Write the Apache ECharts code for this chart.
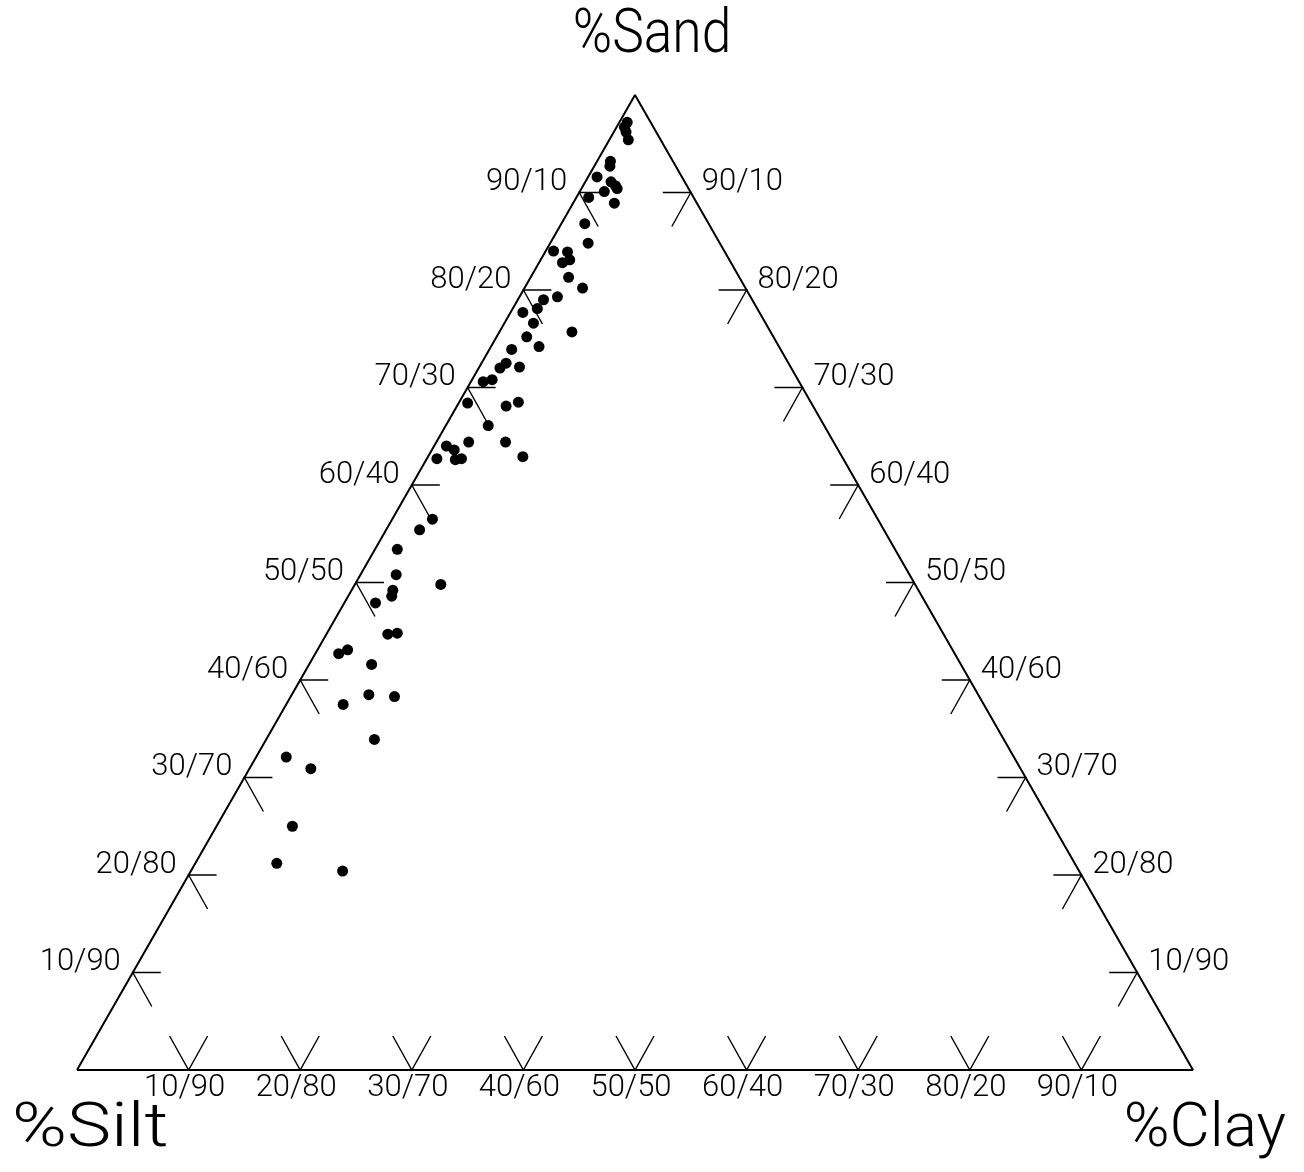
<!DOCTYPE html>
<html>
<head>
<meta charset="utf-8">
<script src="https://cdn.jsdelivr.net/npm/echarts@6/dist/echarts.min.js"></script>
<style>
  html, body { margin: 0; padding: 0; background: #fff; }
  #chart { width: 1304px; height: 1172px; }
</style>
</head>
<body>
<div id="chart"></div>
<script>
// soil samples, percent sand and percent clay (silt = 100 - sand - clay)
const sand = [97.2, 96.7, 96.2, 95.4, 93.2, 92.7, 91.6, 91.1, 90.7, 90.4,
  90.1, 89.5, 88.9, 86.8, 84.8, 84.0, 83.9, 83.1, 82.8, 81.3,
  80.2, 79.3, 79.0, 78.1, 77.7, 76.6, 75.7, 75.2, 74.2, 73.9,
  72.5, 72.0, 72.1, 70.8, 70.6, 68.4, 68.1, 68.5, 66.1, 64.0,
  63.6, 64.4, 64.4, 62.9, 62.7, 62.6, 62.7, 56.5, 55.4, 53.4,
  50.8, 49.2, 48.6, 49.8, 47.9, 44.7, 44.8, 43.1, 42.7, 41.6,
  38.5, 38.3, 37.5, 33.9, 32.1, 30.9, 25.0, 21.2, 20.4];
const clay = [0.7, 0.7, 1.1, 1.7, 1.2, 1.4, 0.8, 2.3, 2.9, 3.2,
  2.2, 1.1, 3.7, 2.1, 3.4, 0.7, 2.0, 2.6, 2.1, 3.4,
  5.2, 3.4, 2.3, 2.2, 1.1, 2.6, 6.5, 2.7, 4.3, 2.0,
  2.2, 1.9, 3.6, 1.8, 1.1, 0.8, 4.4, 5.3, 3.8, 1.1,
  2.0, 2.9, 6.2, 8.5, 0.9, 2.6, 3.1, 3.6, 3.0, 2.0,
  3.2, 3.7, 3.9, 7.7, 2.8, 5.5, 6.3, 2.7, 2.1, 5.6,
  6.9, 9.3, 5.1, 9.7, 2.7, 5.5, 6.8, 7.3, 13.6];

const tickLevels = [10, 20, 30, 40, 50, 60, 70, 80, 90];
const tickLabels = ['10/90', '20/80', '30/70', '40/60', '50/50', '60/40', '70/30', '80/20', '90/10'];

const FONT = 'Roboto';

// ternary -> plane: x runs silt corner (0) to clay corner (100), y is sand %
const toXY = (s, c) => [c + s / 2, s];

const points = sand.map((s, i) => toXY(s, clay[i]));
const outline = [[0, 0], [100, 0], [50, 100], [0, 0]];

const ticks = [];
tickLevels.forEach((v, i) => {
  ticks.push({ value: toXY(v, 0), edge: 'left', label: tickLabels[i] });
  ticks.push({ value: toXY(v, 100 - v), edge: 'right', label: tickLabels[i] });
  ticks.push({ value: toXY(0, v), edge: 'bottom', label: tickLabels[i] });
});

const renderTick = (params, api) => {
  const d = ticks[params.dataIndex];
  const p = api.coord([api.value(0), api.value(1)]);
  let pts, txt;
  if (d.edge === 'left') {
    pts = [[p[0] + 28, p[1]], [p[0], p[1]], [p[0] + 19, p[1] + 34]];
    txt = { x: p[0] - 12, y: p[1] - 10, align: 'right' };
  } else if (d.edge === 'right') {
    pts = [[p[0] - 28, p[1]], [p[0], p[1]], [p[0] - 19, p[1] + 34]];
    txt = { x: p[0] + 11, y: p[1] - 10, align: 'left' };
  } else {
    pts = [[p[0] - 19, p[1] - 34], [p[0], p[1]], [p[0] + 19, p[1] - 34]];
    txt = { x: p[0] - 4, y: p[1] + 18, align: 'center' };
  }
  return {
    type: 'group',
    children: [
      { type: 'polyline', shape: { points: pts }, style: { stroke: '#000', lineWidth: 1.4, fill: null } },
      {
        type: 'text',
        style: {
          text: d.label, x: txt.x, y: txt.y, align: txt.align, verticalAlign: 'middle',
          fontFamily: FONT, fontSize: 31, fontWeight: 300, fill: '#000'
        }
      }
    ]
  };
};

const titleStyle = { fontFamily: FONT, fontSize: 62, fontWeight: 300, fill: '#000', verticalAlign: 'middle' };

const chart = echarts.init(document.getElementById('chart'));
chart.setOption({
  backgroundColor: '#fff',
  animation: false,
  grid: { left: 77, right: 111, top: 95, bottom: 102 },
  xAxis: { type: 'value', min: 0, max: 100, show: false },
  yAxis: { type: 'value', min: 0, max: 100, show: false },
  graphic: [
    {
      type: 'text', originX: 652, originY: 36, scaleX: 0.86,
      style: Object.assign({ text: '%Sand', x: 652, y: 36, align: 'center' }, titleStyle)
    },
    {
      type: 'text', originX: 12, originY: 1130, scaleX: 1.2,
      style: Object.assign({ text: '%Silt', x: 12, y: 1130, align: 'left' }, titleStyle)
    },
    {
      type: 'text',
      style: Object.assign({ text: '%Clay', x: 1286, y: 1130, align: 'right' }, titleStyle)
    }
  ],
  series: [
    {
      type: 'line',
      data: outline,
      symbol: 'none',
      lineStyle: { color: '#000', width: 2 },
      z: 1
    },
    {
      type: 'custom',
      data: ticks.map(t => t.value),
      renderItem: renderTick,
      z: 2
    },
    {
      type: 'scatter',
      data: points,
      symbolSize: 11,
      itemStyle: { color: '#000', opacity: 1 },
      z: 3
    }
  ]
});
</script>
</body>
</html>
